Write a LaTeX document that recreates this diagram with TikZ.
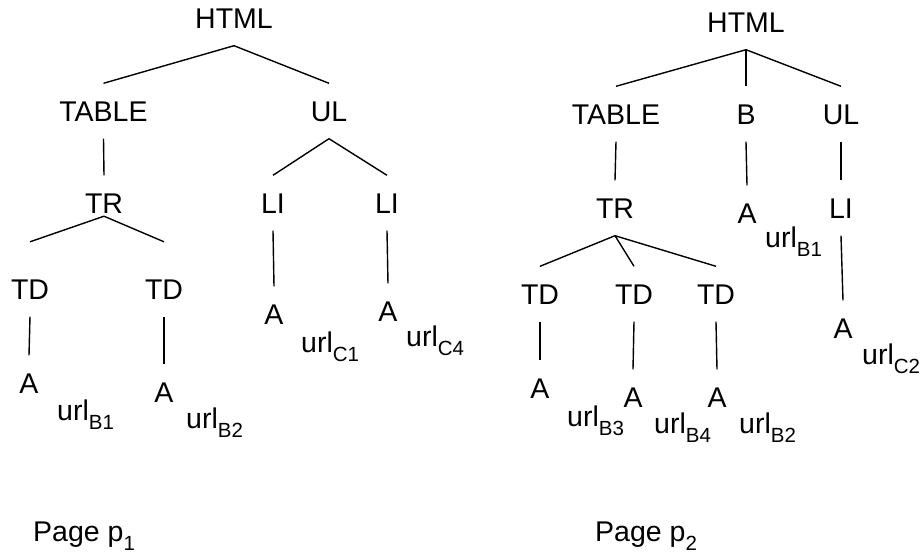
\documentclass[tikz,border=0pt]{standalone}
\usepackage{fontspec}
\setmainfont{Liberation Sans}
\newcommand{\subidx}[1]{\raisebox{-9pt}{\fontsize{20.5}{21}\selectfont #1}}
\tikzset{
	tag/.style={anchor=base, inner xsep=0pt, inner ysep=17.5pt, text height=20pt, text depth=0pt, font=\fontsize{28.5}{30}\selectfont},
	urllabel/.style={anchor=base west, inner sep=0pt, font=\fontsize{28.5}{30}\selectfont},
	branch/.style={line width=1.4pt}
}

\begin{document}
\begin{tikzpicture}[x=1pt,y=-1pt]
	  \useasboundingbox (0,0) rectangle (922,554);
	  % Page p1
	  \node[tag] (html1) at (234,28) {HTML};
	  \node[tag] (table1) at (103.5,121) {TABLE};
	  \node[tag] (ul1) at (329,121) {UL};
	  \node[tag] (tr1) at (104,213) {TR};
	  \node[tag] (li11) at (273,213) {LI};
	  \node[tag] (li12) at (387,213) {LI};
	  \node[tag] (td11) at (30,299) {TD};
	  \node[tag] (td12) at (164,299) {TD};
	  \node[tag] (a11) at (29,393) {A};
	  \node[tag] (a12) at (164,402) {A};
	  \node[tag] (a13) at (274,324) {A};
	  \node[tag] (a14) at (388,321) {A};
	  \node[urllabel] (u11) at (57,420) {url\subidx{B1}};
	  \node[urllabel] (u12) at (186,428) {url\subidx{B2}};
	  \node[urllabel] (u13) at (301,352) {url\subidx{C1}};
	  \node[urllabel] (u14) at (406,346) {url\subidx{C4}};
	  \node[urllabel] (page1) at (33,541) {Page p\subidx{1}};
	  \draw[branch] (html1.south) -- (table1.north);
	  \draw[branch] (html1.south) -- (ul1.north);
	  \draw[branch] (table1.south) -- (tr1.north);
	  \draw[branch] (ul1.south) -- (li11.north);
	  \draw[branch] (ul1.south) -- (li12.north);
	  \draw[branch] ([yshift=14.5pt]tr1.south) -- ([yshift=19.5pt]td11.north);
	  \draw[branch] ([yshift=14.5pt]tr1.south) -- ([yshift=19.5pt]td12.north);
	  \draw[branch] (li11.south) -- (a13.north);
	  \draw[branch] (li12.south) -- (a14.north);
	  \draw[branch] (td11.south) -- (a11.north);
	  \draw[branch] (td12.south) -- (a12.north);
	  % Page p2
	  \node[tag] (html2) at (746,32) {HTML};
	  \node[tag] (table2) at (616,124) {TABLE};
	  \node[tag] (b2) at (746,124) {B};
	  \node[tag] (ul2) at (841,124) {UL};
	  \node[tag] (tr2) at (615,218) {TR};
	  \node[tag] (a21) at (747,223) {A};
	  \node[tag] (li2) at (841,218) {LI};
	  \node[tag] (td21) at (540,304) {TD};
	  \node[tag] (td22) at (634,304) {TD};
	  \node[tag] (td23) at (716,304) {TD};
	  \node[tag] (a22) at (540,398) {A};
	  \node[tag] (a23) at (633,407) {A};
	  \node[tag] (a24) at (717,407) {A};
	  \node[tag] (a25) at (843,338) {A};
	  \node[urllabel] (u21) at (765,247) {url\subidx{B1}};
	  \node[urllabel] (u22) at (567,426) {url\subidx{B3}};
	  \node[urllabel] (u23) at (654,433) {url\subidx{B4}};
	  \node[urllabel] (u24) at (739,433) {url\subidx{B2}};
	  \node[urllabel] (u25) at (862,364) {url\subidx{C2}};
	  \node[urllabel] (page2) at (595,541) {Page p\subidx{2}};
	  \draw[branch] (html2.south) -- (table2.north);
	  \draw[branch] (html2.south) -- (b2.north);
	  \draw[branch] (html2.south) -- (ul2.north);
	  \draw[branch] (table2.south) -- (tr2.north);
	  \draw[branch] (b2.south) -- (a21.north);
	  \draw[branch] (ul2.south) -- (li2.north);
	  \draw[branch] (tr2.south) -- (td21.north);
	  \draw[branch] (tr2.south) -- (td22.north);
	  \draw[branch] (tr2.south) -- (td23.north);
	  \draw[branch] (li2.south) -- (a25.north);
	  \draw[branch] (td21.south) -- (a22.north);
	  \draw[branch] (td22.south) -- (a23.north);
	  \draw[branch] (td23.south) -- (a24.north);
      \end{tikzpicture}
\end{document}
